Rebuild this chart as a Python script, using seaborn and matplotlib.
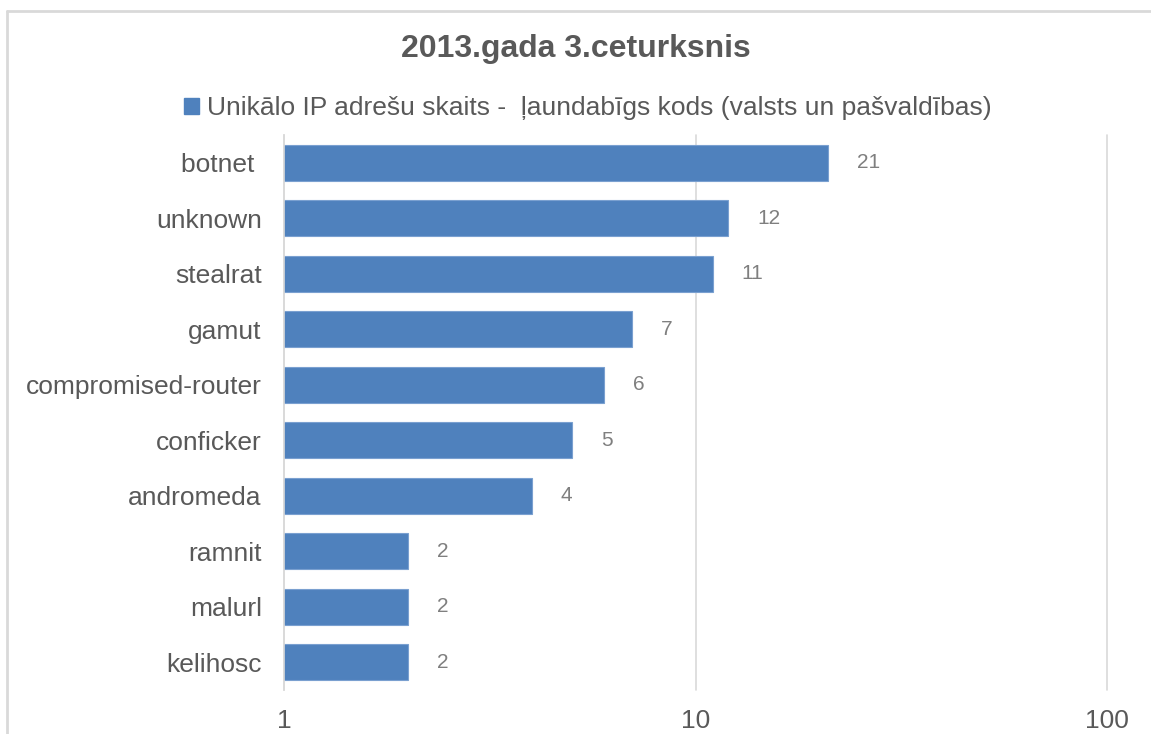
import matplotlib
matplotlib.use('Agg')
import matplotlib.pyplot as plt
import matplotlib.ticker as mticker
from matplotlib.patches import Patch
from matplotlib.lines import Line2D
import seaborn as sns
import pandas as pd

categories = ["botnet ", "unknown", "stealrat", "gamut", "compromised-router",
              "conficker", "andromeda", "ramnit", "malurl", "kelihosc"]
values = [21, 12, 11, 7, 6, 5, 4, 2, 2, 2]
series_name = "Unikālo IP adrešu skaits -  ļaundabīgs kods (valsts un pašvaldības)"
title = "2013.gada 3.ceturksnis"
xticks = [1, 10, 100]
xticklabels = ["1", "10", "100"]

df = pd.DataFrame({"category": categories, "value": values})

sns.set_theme(style="white")
plt.rcParams['font.family'] = ['Liberation Sans', 'DejaVu Sans']

BAR = "#4F81BD"
TXT = "#595959"
GRID = "#D9D9D9"

W, H = 1151, 734
fig = plt.figure(figsize=(W / 100, H / 100), dpi=100)
ax = fig.add_axes([284 / W, 1 - 690 / H, (1107 - 284) / W, (690 - 135) / H])
ax.set_xscale('log')
sns.barplot(data=df, x="value", y="category", color=BAR, saturation=1,
            width=0.65, ax=ax, edgecolor="#7aa0d0", linewidth=0.8)
ax.set_xlim(1, 100)
ax.set_xlabel("")
ax.set_ylabel("")

ax.xaxis.set_major_locator(mticker.FixedLocator(xticks))
ax.xaxis.set_minor_locator(mticker.NullLocator())
ax.set_xticks(xticks)
ax.set_xticklabels(xticklabels)
ax.xaxis.grid(True, color=GRID, lw=1.2)
for gl in ax.get_xgridlines():
    gl.set_clip_on(False)
ax.set_axisbelow(True)
for s in ["top", "right", "bottom"]:
    ax.spines[s].set_visible(False)
ax.spines["left"].set_color(GRID)
ax.spines["left"].set_linewidth(1.2)
ax.tick_params(axis="x", length=0, pad=14, labelsize=19, labelcolor=TXT)
ax.tick_params(axis="y", length=0, pad=16, labelsize=19, labelcolor=TXT)

for i, v in enumerate(values):
    ax.annotate(str(v), xy=(v, i), xytext=(21, 0), textcoords="offset points",
                ha="left", va="center", fontsize=15, color="#7f7f7f")

fig.text(0.5, 1 - 49 / H, title, ha="center", va="center", fontsize=23,
         fontweight="bold", color=TXT)

leg = fig.legend(handles=[Patch(facecolor=BAR, edgecolor=BAR)], labels=[series_name],
                 loc="center", bbox_to_anchor=(588 / W, 1 - 108 / H), frameon=False,
                 fontsize=19, handlelength=0.55, handleheight=0.55, handletextpad=0.3)
for t in leg.get_texts():
    t.set_color(TXT)

fig.add_artist(Line2D([7 / W, 7 / W], [0, 1 - 11 / H], color=GRID, lw=2,
                      transform=fig.transFigure))
fig.add_artist(Line2D([7 / W, 1], [1 - 11 / H, 1 - 11 / H], color=GRID, lw=2,
                      transform=fig.transFigure))

fig.savefig("out.png", dpi=100)
